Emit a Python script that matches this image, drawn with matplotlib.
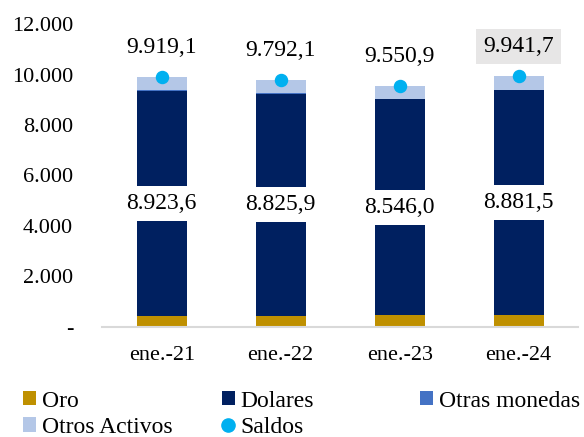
import matplotlib.pyplot as plt
import numpy as np
from matplotlib.patches import Patch
from matplotlib.lines import Line2D

plt.rcParams['font.family'] = ['Liberation Serif', 'DejaVu Serif']

# -----------------------------
# Data
# -----------------------------
categorias = ["ene.-21", "ene.-22", "ene.-23", "ene.-24"]
oro = [440, 420, 470, 490]
dolares = [8923.6, 8825.9, 8546.0, 8881.5]
otras_monedas = [10, 10, 10, 10]
saldos = [9919.1, 9792.1, 9550.9, 9941.7]
otros_activos = [s - o - d - m for s, o, d, m in zip(saldos, oro, dolares, otras_monedas)]

c_oro = "#BF9000"
c_dol = "#002060"
c_otm = "#4472C4"
c_ota = "#B4C7E7"
c_sal = "#00B0F0"


def fmt(v):
    s = f"{v:,.1f}"
    return s.replace(",", "X").replace(".", ",").replace("X", ".")


# -----------------------------
# Plot
# -----------------------------
fig = plt.figure(figsize=(5.84, 4.37), dpi=100)
ax = fig.add_axes([0.175, 0.252, 0.815, 0.693])

x = np.arange(len(categorias))
w = 0.42
b1 = np.array(oro)
b2 = b1 + np.array(dolares)
b3 = b2 + np.array(otras_monedas)

ax.bar(x, oro, w, color=c_oro, zorder=2)
ax.bar(x, dolares, w, bottom=b1, color=c_dol, zorder=2)
ax.bar(x, otras_monedas, w, bottom=b2, color=c_otm, zorder=2)
ax.bar(x, otros_activos, w, bottom=b3, color=c_ota, zorder=2)
ax.scatter(x, saldos, s=75, color=c_sal, zorder=4)

# dolares labels (white box over the bar)
for i in range(len(x)):
    ax.text(x[i], oro[i] + dolares[i] / 2, fmt(dolares[i]), ha="center", va="center",
            fontsize=17, zorder=5,
            bbox=dict(boxstyle="square,pad=0.3", facecolor="white", edgecolor="none"))

# saldos labels
for i in range(len(x)):
    box = None
    if i == len(x) - 1:
        box = dict(boxstyle="square,pad=0.3", facecolor="#E7E6E6", edgecolor="none")
    ax.annotate(fmt(saldos[i]), (x[i], saldos[i]), xytext=(0, 21), textcoords="offset points",
                ha="center", va="center", fontsize=17, zorder=5, bbox=box)

ax.set_xlim(-0.5, len(x) - 0.5)
ax.set_ylim(0, 12000)
ax.set_yticks(range(0, 12001, 2000))
ax.set_yticklabels(["-"] + [f"{v // 1000}.000" for v in range(2000, 12001, 2000)])
ax.set_xticks(x)
ax.set_xticklabels(categorias)
ax.tick_params(axis="both", length=0, labelsize=16)
ax.tick_params(axis="y", pad=21)
ax.tick_params(axis="x", pad=14)
for s in ["top", "right", "left"]:
    ax.spines[s].set_visible(False)
ax.spines["bottom"].set_color("#D9D9D9")
ax.spines["bottom"].set_linewidth(1.5)

# -----------------------------
# Legend (one per column)
# -----------------------------
def sq(c):
    return Patch(facecolor=c, edgecolor="none")

cols = [
    ([sq(c_oro), sq(c_ota)], ["Oro", "Otros Activos"], 0.039),
    ([sq(c_dol), Line2D([], [], marker="o", color=c_sal, linestyle="none", markersize=9.5)],
     ["Dolares", "Saldos"], 0.380),
    ([sq(c_otm)], ["Otras monedas"], 0.719),
]
for handles, labels, xpos in cols:
    fig.legend(handles, labels, loc="upper left", bbox_to_anchor=(xpos, 0.106),
               frameon=False, prop={"family": "Liberation Serif", "size": 17},
               handlelength=0.55, handleheight=0.55,
               handletextpad=0.25, labelspacing=0.22, borderpad=0, borderaxespad=0)

fig.savefig("out.png", dpi=100)
